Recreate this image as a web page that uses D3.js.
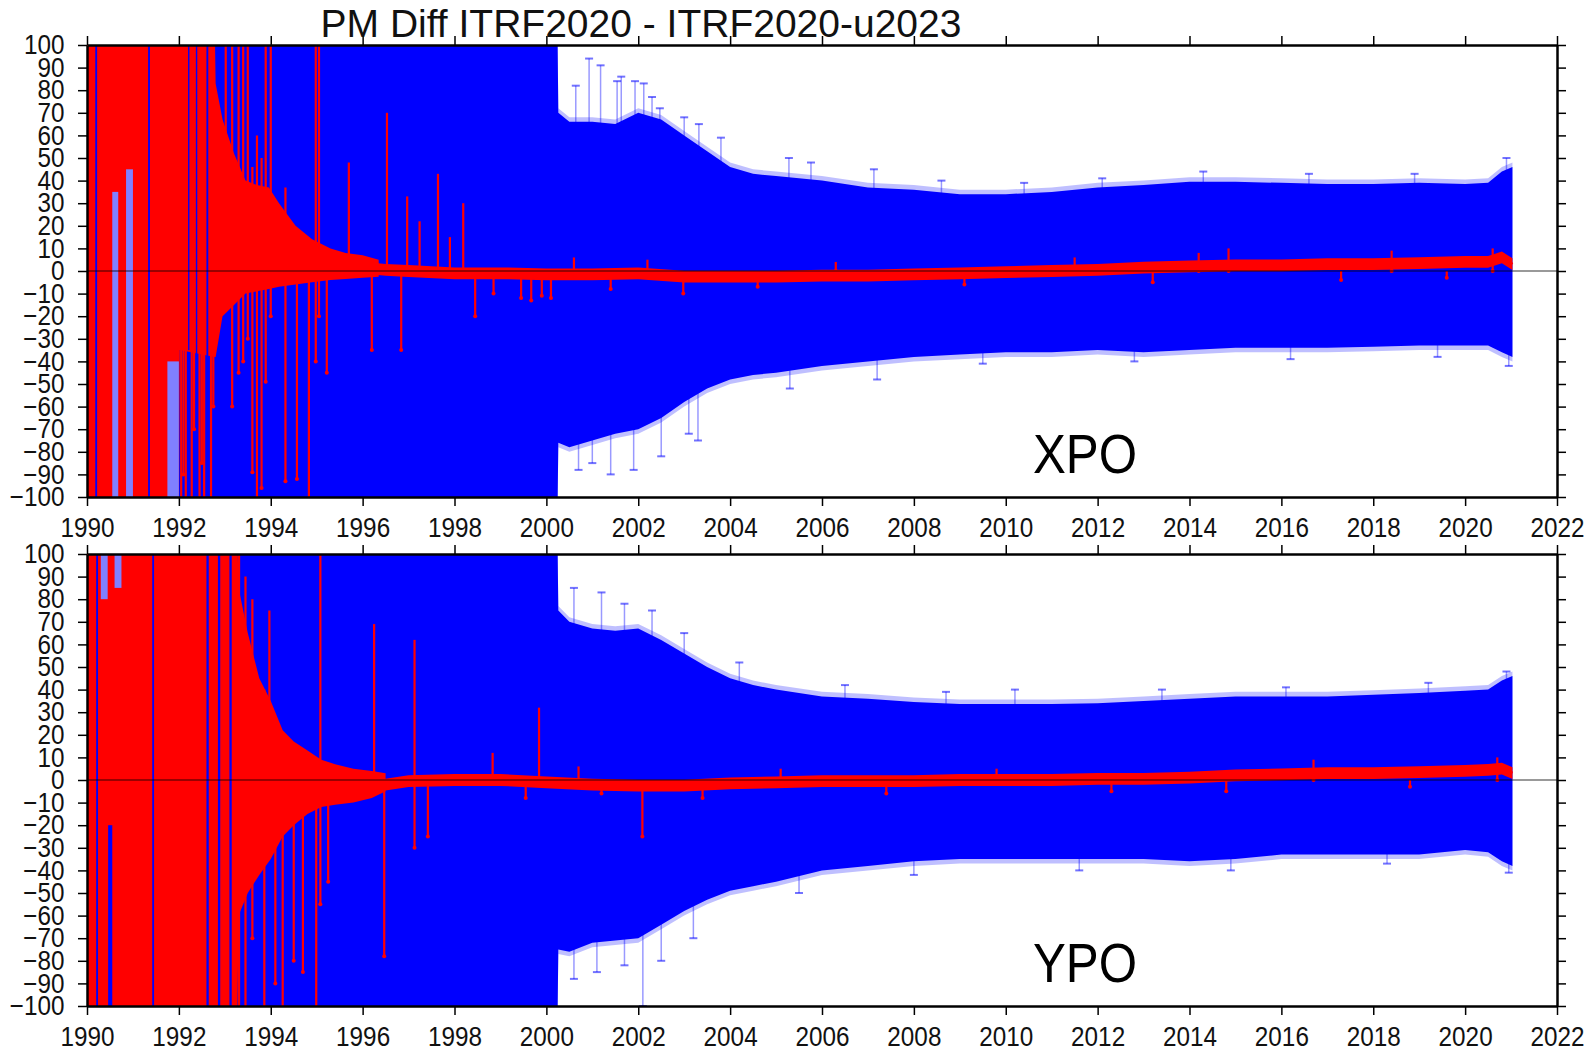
<!DOCTYPE html>
<html><head><meta charset="utf-8">
<script src="https://cdn.jsdelivr.net/npm/d3@7"></script>
<style>
html,body{margin:0;padding:0;background:#fff;}
svg{display:block;font-family:"Liberation Sans",Arial,Helvetica,sans-serif;}
</style></head>
<body>
<svg id="chart" width="1588" height="1051"></svg>
<script>
// ---------- DATA ----------
const title = "PM Diff ITRF2020 - ITRF2020-u2023";
const panelNames = ["XPO", "YPO"];
const xTicks = d3.range(1990, 2023, 2);
const yTicks = d3.range(-100, 101, 10);

// blue (formal uncertainty) envelope
const blueYears = [1990, 2000.24, 2000.26, 2000.5, 2001, 2001.5, 2002, 2002.5, 2003, 2003.5, 2004, 2004.5, 2005,
  2006, 2007, 2008, 2009, 2010, 2011, 2012, 2013, 2014, 2015, 2016, 2017, 2018, 2019, 2020, 2020.5, 2020.8, 2021.03];
const xpoBlueHi = [110, 110, 70, 66, 66, 65, 70, 67, 60, 53, 46, 43, 42, 40, 37, 36, 34, 34, 35, 37, 38, 39.5, 39.5, 39, 38.5, 38.5, 39, 38.5, 39, 44, 46];
const xpoBlueLo = [-110, -110, -76, -78, -75, -72, -70, -65, -58, -52, -48, -46, -45, -42, -40, -38, -37, -36, -36, -35, -36, -35, -34, -34, -34, -33.5, -33, -33, -33, -36, -38];
const ypoBlueHi = [110, 110, 75, 70, 67, 66, 67, 62, 56, 50, 45, 42, 40, 37, 36, 34.5, 33.6, 33.6, 33.6, 34, 35, 36, 37, 37, 37, 37.7, 38.5, 39.5, 40, 44, 46];
const ypoBlueLo = [-110, -110, -75, -76, -72, -71, -70, -64, -58, -53, -49, -47, -45, -40, -38, -36, -35, -35, -35, -35, -35, -36, -35, -33, -33, -33, -33, -31, -32, -36, -38];

// individual blue error bars sticking out of the envelope [year, value]
const xpoBlueTips = [[2000.64, 82], [2000.93, 94], [2001.18, 91], [2001.54, 84], [2001.63, 86], [2001.93, 84], [2002.12, 83],
  [2002.3, 77], [2002.47, 72], [2003.0, 68], [2003.32, 65], [2003.8, 59], [2005.28, 50], [2005.76, 48], [2007.13, 45],
  [2008.6, 40], [2010.4, 39], [2012.1, 41], [2014.3, 44], [2016.6, 43], [2018.9, 43], [2020.9, 50],
  [2000.7, -88], [2001.0, -85], [2001.4, -90], [2001.9, -88], [2002.5, -82], [2003.1, -72], [2003.3, -75], [2005.3, -52], [2007.2, -48],
  [2009.5, -41], [2012.8, -40], [2016.2, -39], [2019.4, -38], [2020.95, -42]];
const ypoBlueTips = [[2000.6, 85], [2001.2, 83], [2001.7, 78], [2002.3, 75], [2003.0, 65], [2004.2, 52], [2006.5, 42], [2008.7, 39],
  [2010.2, 40], [2013.4, 40], [2016.1, 41], [2019.2, 43], [2020.9, 48],
  [2000.6, -88], [2001.1, -85], [2001.7, -82], [2002.1, -100], [2002.5, -80], [2003.2, -70], [2005.5, -50], [2008.0, -42],
  [2011.6, -40], [2014.9, -40], [2018.3, -37], [2020.95, -41]];

// red (difference) dense envelope in the early years
const xpoRedYears = [1990, 1992.0, 1992.02, 1992.78, 1992.8, 1992.95, 1993.2, 1993.45, 1993.7, 1993.96, 1994.18, 1994.54, 1994.9, 1995.3, 1995.63, 1996.0, 1996.35];
const xpoRedHi = [110, 110, 110, 110, 83, 67, 52, 40, 38, 37, 30, 20, 14, 10, 8, 7, 5];
const xpoRedLo = [-110, -110, -35, -38, -38, -20, -15, -10, -9, -8, -7, -6, -5, -4, -3.5, -3, -2.5];
const ypoRedYears = [1990, 1993.27, 1993.3, 1993.5, 1993.75, 1994.0, 1994.26, 1994.5, 1994.8, 1995.1, 1995.4, 1995.8, 1996.2, 1996.5];
const ypoRedHi = [110, 110, 85, 65, 45, 35, 22, 17, 13, 9, 7, 5, 4, 3];
const ypoRedLo = [-110, -110, -60, -50, -42, -35, -25, -20, -15, -12, -11, -10, -8, -5];

// gaps in the early red block [yearStart, yearEnd, lo, hi]
const xpoBlueGaps = [[1990.18, 1990.22, -100, 100], [1991.33, 1991.37, -100, 100], [1992.2, 1992.23, -35, 100], [1992.37, 1992.4, -100, 100], [1992.6, 1992.64, -100, 100]];
const xpoLightGaps = [[1990.55, 1990.68, -100, 35], [1990.85, 1991.0, -100, 45], [1991.75, 1992.0, -100, -40]];
const ypoBlueGaps = [[1990.2, 1990.24, -100, 100], [1990.46, 1990.55, -100, -20], [1991.42, 1991.46, -100, 100], [1992.6, 1992.65, -100, 100], [1992.85, 1992.9, -100, 100], [1993.1, 1993.15, -100, 100]];
const ypoLightGaps = [[1990.3, 1990.45, 80, 100], [1990.6, 1990.75, 85, 100]];

// isolated red error bars [year, lo, hi]
const xpoSpikes = [[1992.05, -100, 0], [1992.1, -90, 0], [1992.15, -100, 0], [1992.28, -100, 0], [1992.33, -70, 0], [1992.45, -100, 0],
  [1992.5, -85, 0], [1992.55, -100, 0], [1992.7, -100, 0], [1992.75, -60, 0],
  [1993.02, -10, 110], [1993.16, -60, 110], [1993.3, -45, 110], [1993.4, -40, 110], [1993.5, -30, 110], [1993.6, -89, 46],
  [1993.7, -100, 60], [1993.8, -96, 50], [1993.89, -49, 110], [1994.0, -20, 110], [1994.32, -93, 37], [1994.57, -92, 0], [1994.83, -100, 0],
  [1994.98, -40, 110], [1995.05, -20, 110], [1995.22, -45, 0], [1995.7, 0, 48], [1996.2, -35, 0], [1996.53, 0, 70], [1996.84, -35, 0],
  [1996.97, 0, 33], [1997.24, 0, 22], [1997.64, 0, 43], [1997.9, 0, 15], [1998.19, 0, 30], [1998.45, -20, 0], [1998.85, -10, 0],
  [1999.45, -12, 0], [1999.67, -13, 0], [1999.9, -11, 0], [2000.1, -12, 0], [2000.6, 0, 6], [2001.4, -8, 0], [2002.2, 0, 5],
  [2002.98, -10, 0], [2004.6, -7, 0], [2006.3, 0, 4], [2009.1, -6, 0], [2011.5, 0, 6], [2013.2, -5, 0], [2014.2, 0, 8], [2014.85, 0, 10],
  [2017.3, -4, 0], [2018.4, 0, 9], [2019.6, -3, 0], [2020.6, 0, 10]];
const ypoSpikes = [[1993.31, -100, 110], [1993.45, -100, 90], [1993.6, -70, 80], [1993.86, -100, 40], [1993.97, -30, 75], [1994.1, -90, 20],
  [1994.26, -100, 0], [1994.5, -80, 0], [1994.7, -85, 0], [1994.99, -100, 0], [1995.08, -55, 110], [1995.25, -45, 0], [1996.25, 0, 69],
  [1996.47, -78, 0], [1997.13, -30, 62], [1997.42, -25, 0], [1998.83, 0, 12], [1999.55, -8, 0], [1999.84, 0, 32], [2000.7, 0, 6],
  [2001.2, -6, 0], [2002.09, -25, 0], [2003.4, -8, 0], [2005.1, 0, 5], [2007.4, -6, 0], [2009.8, 0, 5], [2012.3, -5, 0],
  [2014.8, -5, 0], [2016.7, 0, 9], [2018.8, -3, 0], [2020.7, 0, 10]];

// red central difference curve
const meanYears = [1995.5, 1996, 1996.5, 1997, 1998, 1999, 2000, 2001, 2002, 2003, 2004, 2005, 2006, 2007, 2008, 2009, 2010, 2011, 2012, 2013,
  2014, 2015, 2016, 2017, 2018, 2019, 2020, 2020.5, 2020.8, 2021.03];
const xpoMean = [3, 1.5, 0.5, 0, -1, -1, -1.5, -1.5, -1, -2.5, -2.5, -2.5, -2, -2, -1.5, -1, -0.5, 0, 0.5, 1.5, 2, 2.5, 2.5, 3, 3, 3.5, 4, 4, 6, 3];
const ypoMean = [-6, -4, -2, -0.5, 0, 0, -1, -2, -2.5, -2.5, -1.5, -1, -0.5, -0.5, -0.5, 0, 0, 0, 0.5, 0.5, 1, 2, 2.5, 3, 3, 3.5, 4, 4.5, 5, 3];

// ---------- DRAW ----------
const svg = d3.select("#chart");
const left = 87, right = 1557;
const panelTops = [45, 554], panelH = 452;
const x = d3.scaleLinear().domain([1990, 2022]).range([left, right]);

const panels = [
  {name: panelNames[0], hi: xpoBlueHi, lo: xpoBlueLo, tips: xpoBlueTips, rY: xpoRedYears, rHi: xpoRedHi, rLo: xpoRedLo,
   bGaps: xpoBlueGaps, lGaps: xpoLightGaps, spikes: xpoSpikes, mean: xpoMean},
  {name: panelNames[1], hi: ypoBlueHi, lo: ypoBlueLo, tips: ypoBlueTips, rY: ypoRedYears, rHi: ypoRedHi, rLo: ypoRedLo,
   bGaps: ypoBlueGaps, lGaps: ypoLightGaps, spikes: ypoSpikes, mean: ypoMean}
];

const BLUE = "#0000ff", LIGHT = "#8080ff", RED = "#ff0000";

panels.forEach((p, i) => {
  const top = panelTops[i];
  const y = d3.scaleLinear().domain([-100, 100]).range([top + panelH, top]);
  const cid = "clip" + i;
  svg.append("clipPath").attr("id", cid).append("rect")
    .attr("x", left).attr("y", top).attr("width", right - left).attr("height", panelH);
  const g = svg.append("g").attr("clip-path", `url(#${cid})`);

  // light fringe of blue error-bar caps
  const blue = blueYears.map((yr, k) => ({yr, hi: p.hi[k], lo: p.lo[k]}));
  g.append("path").datum(blue)
    .attr("d", d3.area().x(d => x(d.yr)).y0(d => y(d.lo - 2)).y1(d => y(d.hi + 2)))
    .attr("fill", BLUE).attr("fill-opacity", 0.25);
  g.append("path").datum(blue)
    .attr("d", d3.area().x(d => x(d.yr)).y0(d => y(d.lo)).y1(d => y(d.hi)))
    .attr("fill", BLUE);

  // protruding blue error bars
  g.selectAll(".tip").data(p.tips).enter().append("line")
    .attr("x1", d => x(d[0])).attr("x2", d => x(d[0]))
    .attr("y1", y(0)).attr("y2", d => y(d[1]))
    .attr("stroke", BLUE).attr("stroke-opacity", 0.4).attr("stroke-width", 1.5);
  g.selectAll(".cap").data(p.tips).enter().append("line")
    .attr("x1", d => x(d[0]) - 4).attr("x2", d => x(d[0]) + 4)
    .attr("y1", d => y(d[1])).attr("y2", d => y(d[1]))
    .attr("stroke", BLUE).attr("stroke-opacity", 0.55).attr("stroke-width", 2);

  // red dense early block
  const red = p.rY.map((yr, k) => ({yr, hi: p.rHi[k], lo: p.rLo[k]}));
  g.append("path").datum(red)
    .attr("d", d3.area().x(d => x(d.yr)).y0(d => y(d.lo)).y1(d => y(d.hi)))
    .attr("fill", RED);

  // gaps
  g.selectAll(".lgap").data(p.lGaps).enter().append("rect")
    .attr("x", d => x(d[0])).attr("width", d => x(d[1]) - x(d[0]))
    .attr("y", d => y(d[3])).attr("height", d => y(d[2]) - y(d[3]))
    .attr("fill", LIGHT);
  g.selectAll(".bgap").data(p.bGaps).enter().append("rect")
    .attr("x", d => x(d[0])).attr("width", d => x(d[1]) - x(d[0]))
    .attr("y", d => y(d[3])).attr("height", d => y(d[2]) - y(d[3]))
    .attr("fill", BLUE);

  // red spikes
  g.selectAll(".spike").data(p.spikes).enter().append("line")
    .attr("x1", d => x(d[0])).attr("x2", d => x(d[0]))
    .attr("y1", d => y(d[1])).attr("y2", d => y(d[2]))
    .attr("stroke", RED).attr("stroke-width", 2.2);
  g.selectAll(".sdot").data(p.spikes.filter(d => d[1] > -100)).enter().append("circle")
    .attr("cx", d => x(d[0])).attr("cy", d => y(d[1])).attr("r", 2).attr("fill", RED);

  // central difference band
  const mean = meanYears.map((yr, k) => ({yr, v: p.mean[k]}));
  g.append("path").datum(mean)
    .attr("d", d3.area().x(d => x(d.yr)).y0(d => y(d.v - 2.6)).y1(d => y(d.v + 2.6)))
    .attr("fill", RED);
  g.append("path").datum(mean)
    .attr("d", d3.line().x(d => x(d.yr)).y(d => y(d.v)))
    .attr("fill", "none").attr("stroke", RED).attr("stroke-width", 3);

  // zero line
  svg.append("line").attr("x1", left).attr("x2", right).attr("y1", y(0)).attr("y2", y(0))
    .attr("stroke", "#000").attr("stroke-opacity", 0.4).attr("stroke-width", 2);

  // axes
  const fs = 27, sx = 0.9;
  const ax = svg.append("g").attr("transform", `translate(0,${top + panelH})`)
    .call(d3.axisBottom(x).tickValues(xTicks).tickFormat(d3.format("d")).tickSize(9).tickSizeOuter(0).tickPadding(12));
  const ay = svg.append("g").attr("transform", `translate(${left},0)`)
    .call(d3.axisLeft(y).tickValues(yTicks).tickSize(9).tickSizeOuter(0).tickPadding(16));
  const at = svg.append("g").attr("transform", `translate(0,${top})`)
    .call(d3.axisTop(x).tickValues(xTicks).tickFormat("").tickSize(9).tickSizeOuter(0));
  const ar = svg.append("g").attr("transform", `translate(${right},0)`)
    .call(d3.axisRight(y).tickValues(yTicks).tickFormat("").tickSize(9).tickSizeOuter(0));
  [ax, ay, at, ar].forEach(a => {
    a.attr("font-family", null).attr("font-size", null);
    a.select(".domain").attr("stroke", "#000").attr("stroke-width", 2.5);
    a.selectAll(".tick line").attr("stroke", "#000").attr("stroke-width", 1.5);
    a.selectAll(".tick text").attr("fill", "#111").style("font-size", fs + "px")
      .attr("transform", `scale(${sx},1)`);
  });

  // panel label
  svg.append("text").attr("x", 1085).attr("y", top + panelH - 24)
    .attr("text-anchor", "middle").style("font-size", "56px").attr("fill", "#000")
    .attr("transform", `translate(1085,0) scale(0.88,1) translate(-1085,0)`)
    .text(p.name);
});

svg.append("text").attr("x", 641).attr("y", 37).attr("text-anchor", "middle")
  .style("font-size", "39px").attr("fill", "#111").text(title);
</script>
</body></html>
